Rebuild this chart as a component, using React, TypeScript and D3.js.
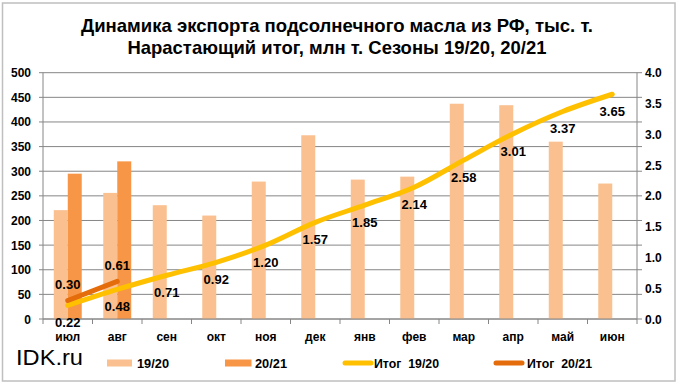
import { useRef, useEffect } from "react";
import * as d3 from "d3";

const months = ["июл", "авг", "сен", "окт", "ноя", "дек", "янв", "фев", "мар", "апр", "май", "июн"];
const export1920 = [221, 256, 231, 210, 279, 373, 283, 289, 437, 434, 360, 275];
const export2021 = [295, 320];
const total1920 = [0.22, 0.48, 0.71, 0.92, 1.2, 1.57, 1.85, 2.14, 2.58, 3.01, 3.37, 3.65];
const total2021 = [0.3, 0.61];
const seriesNames = ["19/20", "20/21"];

const W = 682;
const H = 389;
const FONT = "'Liberation Sans', Arial, sans-serif";

export default function App() {
  const svgRef = useRef<SVGSVGElement>(null);

  useEffect(() => {
    if (!svgRef.current) return;
    const svg = d3.select(svgRef.current);
    svg.selectAll("*").remove();

    const plot = { left: 43, right: 637, top: 72.7, bottom: 319 };

    svg.append("rect").attr("x", 0).attr("y", 0).attr("width", W).attr("height", H).attr("fill", "#fff");
    svg.append("rect").attr("x", 2.5).attr("y", 3).attr("width", 672.5).attr("height", 378)
      .attr("fill", "#fff").attr("stroke", "#bfbfbf").attr("stroke-width", 1.5);

    // title
    const title = ["Динамика экспорта подсолнечного масла из РФ, тыс. т.", "Нарастающий итог, млн т. Сезоны 19/20, 20/21"];
    const titleW = [512, 419];
    title.forEach((t, i) => {
      svg.append("text").attr("x", 337).attr("y", 32 + i * 21.5).attr("text-anchor", "middle")
        .attr("font-family", FONT).attr("font-weight", "bold").attr("font-size", 19).attr("fill", "#000")
        .attr("textLength", titleW[i]).attr("lengthAdjust", "spacingAndGlyphs").text(t);
    });

    const x = d3.scaleBand<string>().domain(months).range([plot.left, plot.right]).paddingInner(0).paddingOuter(0);
    const xs = d3.scaleBand<string>().domain(seriesNames).range([0, x.bandwidth()]).paddingInner(0).paddingOuter(0.77);
    const yL = d3.scaleLinear().domain([0, 500]).range([plot.bottom, plot.top]);
    const yR = d3.scaleLinear().domain([0, 4]).range([plot.bottom, plot.top]);

    // gridlines
    const grid = svg.append("g");
    yL.ticks(10).forEach((v) => {
      grid.append("line").attr("x1", plot.left - 4).attr("x2", plot.right + 5)
        .attr("y1", yL(v)).attr("y2", yL(v)).attr("stroke", "#868686").attr("stroke-width", 1);
    });

    // axes lines
    svg.append("line").attr("x1", plot.left).attr("x2", plot.left).attr("y1", plot.top).attr("y2", plot.bottom)
      .attr("stroke", "#868686");
    svg.append("line").attr("x1", plot.right).attr("x2", plot.right).attr("y1", plot.top).attr("y2", plot.bottom)
      .attr("stroke", "#868686");

    // left ticks
    yL.ticks(10).forEach((v) => {
      svg.append("text").attr("x", 31).attr("y", yL(v) + 4.5).attr("text-anchor", "end")
        .attr("font-family", FONT).attr("font-weight", "bold").attr("font-size", 12).attr("fill", "#000").text(v);
    });
    yR.ticks(8).forEach((v) => {
      svg.append("text").attr("x", 645).attr("y", yR(v) + 4.5).attr("text-anchor", "start")
        .attr("font-family", FONT).attr("font-weight", "bold").attr("font-size", 12).attr("fill", "#000").text(d3.format(".1f")(v));
    });

    // bars
    const barColors = ["#fac090", "#f79646"];
    [export1920, export2021].forEach((vals, si) => {
      vals.forEach((v, i) => {
        svg.append("rect").attr("x", x(months[i])! + xs(seriesNames[si])!).attr("y", yL(v))
          .attr("width", xs.bandwidth()).attr("height", yL(0) - yL(v)).attr("fill", barColors[si]);
      });
    });

    // x axis
    svg.append("line").attr("x1", plot.left).attr("x2", plot.right).attr("y1", plot.bottom).attr("y2", plot.bottom)
      .attr("stroke", "#868686");
    [...months.map((m) => x(m)!), plot.right].forEach((px) => {
      svg.append("line").attr("x1", px).attr("x2", px).attr("y1", plot.bottom).attr("y2", plot.bottom + 5)
        .attr("stroke", "#868686");
    });
    months.forEach((m) => {
      svg.append("text").attr("x", x(m)! + x.bandwidth() / 2).attr("y", 341).attr("text-anchor", "middle")
        .attr("font-family", FONT).attr("font-weight", "bold").attr("font-size", 12).attr("fill", "#000").text(m);
    });

    // cumulative lines
    const cx = (i: number) => x(months[i])! + x.bandwidth() / 2;
    const line = d3.line<number>().x((_, i) => cx(i)).y((v) => yR(v)).curve(d3.curveCatmullRom.alpha(0.5));
    svg.append("path").datum(total1920).attr("d", line).attr("fill", "none").attr("stroke", "#ffc000")
      .attr("stroke-width", 5).attr("stroke-linecap", "round").attr("stroke-linejoin", "round");
    svg.append("path").datum(total2021).attr("d", line).attr("fill", "none").attr("stroke", "#e46c0a")
      .attr("stroke-width", 5).attr("stroke-linecap", "round");

    total1920.forEach((v, i) => {
      svg.append("text").attr("x", cx(i)).attr("y", yR(v) + 22).attr("text-anchor", "middle")
        .attr("font-family", FONT).attr("font-weight", "bold").attr("font-size", 13).attr("fill", "#000")
        .text(d3.format(".2f")(v));
    });
    total2021.forEach((v, i) => {
      svg.append("text").attr("x", cx(i)).attr("y", yR(v) - 11.5).attr("text-anchor", "middle")
        .attr("font-family", FONT).attr("font-weight", "bold").attr("font-size", 13).attr("fill", "#000")
        .text(d3.format(".2f")(v));
    });

    // watermark
    svg.append("text").attr("x", 16).attr("y", 365).attr("font-family", FONT).attr("font-size", 22)
      .attr("fill", "#000").attr("textLength", 67).attr("lengthAdjust", "spacingAndGlyphs").text("IDK.ru");

    // legend
    const legend = [
      { name: "19/20", kind: "bar", color: "#fac090", x0: 107, x1: 132, tx: 137, tw: 32 },
      { name: "20/21", kind: "bar", color: "#f79646", x0: 225, x1: 251.5, tx: 255, tw: 32 },
      { name: "Итог  19/20", kind: "line", color: "#ffc000", x0: 345, x1: 371, tx: 374, tw: 65 },
      { name: "Итог  20/21", kind: "line", color: "#e46c0a", x0: 496, x1: 522, tx: 527, tw: 65 },
    ];
    legend.forEach((d) => {
      if (d.kind === "bar") {
        svg.append("rect").attr("x", d.x0).attr("y", 359.5).attr("width", d.x1 - d.x0).attr("height", 7).attr("fill", d.color);
      } else {
        svg.append("line").attr("x1", d.x0).attr("x2", d.x1).attr("y1", 363).attr("y2", 363).attr("stroke", d.color)
          .attr("stroke-width", 5).attr("stroke-linecap", "round");
      }
      svg.append("text").attr("x", d.tx).attr("y", 367.5).attr("font-family", FONT).attr("font-weight", "bold")
        .attr("font-size", 12).attr("fill", "#000").attr("textLength", d.tw).attr("lengthAdjust", "spacingAndGlyphs")
        .style("white-space", "pre").text(d.name);
    });
  }, []);

  return <svg ref={svgRef} width={W} height={H} style={{ position: "absolute", left: 0, top: 0 }} />;
}
